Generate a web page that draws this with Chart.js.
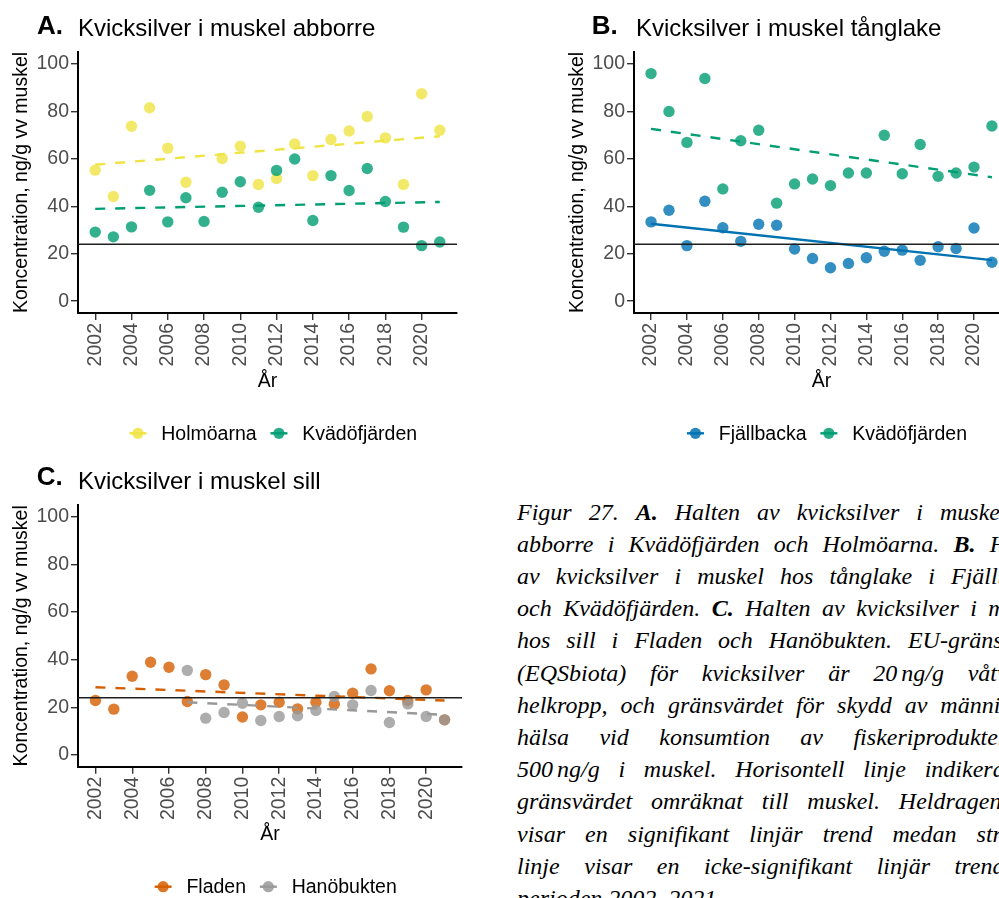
<!DOCTYPE html>
<html lang="sv">
<head>
<meta charset="utf-8">
<title>Kvicksilver i muskel</title>
<script src="https://cdn.jsdelivr.net/npm/chart.js@4.4.1/dist/chart.umd.min.js"></script>
<style>
  html, body { margin: 0; padding: 0; background: #fff; width: 999px; height: 898px; overflow: hidden; }
  canvas { position: absolute; display: block; }
  #caption {
    position: absolute; left: 517px; top: 495.6px;
    font-family: "Liberation Serif", "Times New Roman", serif;
    font-style: italic; font-size: 24px; line-height: 32.2px; color: #000;
  }
  #caption div { width: 540px; text-align: justify; text-align-last: justify; white-space: normal; }
  #caption div.last { text-align-last: left; }
  #caption b { font-weight: bold; }
  .ns { display: inline-block; width: 4px; }
</style>
</head>
<body>
<canvas id="panelA" width="470" height="455" style="left:0;top:0;width:470px;height:455px"></canvas>
<canvas id="panelB" width="470" height="455" style="left:556px;top:0;width:470px;height:455px"></canvas>
<canvas id="panelC" width="470" height="443" style="left:0;top:455px;width:470px;height:443px"></canvas>

<div id="caption">
  <div style="width:540px">Figur 27. <b>A.</b> Halten av kvicksilver i muskel hos</div>
  <div style="width:538px">abborre i Kvädöfjärden och Holmöarna. <b>B.</b> Halten</div>
  <div style="width:538px">av kvicksilver i muskel hos tånglake i Fjällbacka</div>
  <div style="width:538px">och Kvädöfjärden. <b>C.</b> Halten av kvicksilver i muskel</div>
  <div style="width:546px">hos sill i Fladen och Hanöbukten. EU-gränsvärdet</div>
  <div style="width:545px">(EQSbiota) för kvicksilver är 20<span class="ns"></span>ng/g våtvikt i</div>
  <div style="width:534px">helkropp, och gränsvärdet för skydd av människors</div>
  <div style="width:542px">hälsa vid konsumtion av fiskeriprodukter är</div>
  <div style="width:497px">500<span class="ns"></span>ng/g i muskel. Horisontell linje indikerar</div>
  <div style="width:546px">gränsvärdet omräknat till muskel. Heldragen linje</div>
  <div style="width:540px">visar en signifikant linjär trend medan streckad</div>
  <div style="width:540px">linje visar en icke-signifikant linjär trend för</div>
  <div class="last">perioden 2002–2021.</div>
</div>

<script>
// ---- Data: mercury in muscle, ng/g wet weight ----
const years = [2002, 2003, 2004, 2005, 2006, 2007, 2008, 2009, 2010, 2011,
               2012, 2013, 2014, 2015, 2016, 2017, 2018, 2019, 2020, 2021];
const tickYears = [2002, 2004, 2006, 2008, 2010, 2012, 2014, 2016, 2018, 2020];
const tickValues = [0, 20, 40, 60, 80, 100];

// A. Abborre (perch)
const abborreHolmoarna   = [55.2, 44.1, 73.7, 81.5, 64.5, 50.1, null, 60.1, 65.3, 49.2,
                            51.7, 66.2, 52.9, 68.1, 71.7, 77.8, 68.8, 49.2, 87.4, 72.0];
const abborreKvadofjarden = [29.1, 27.1, 31.3, 46.7, 33.4, 43.6, 33.6, 45.9, 50.3, 39.6,
                            55.1, 59.9, 34.0, 52.9, 46.6, 55.9, 42.0, 31.2, 23.4, 24.9];
const abborreHolmoarnaTrend    = [57.5, 69.5];
const abborreKvadofjardenTrend = [38.9, 41.8];

// B. Tånglake (eelpout)
const tanglakeFjallbacka   = [33.4, 38.3, 23.4, 42.1, 30.9, 25.2, 32.4, 32.0, 22.0, 18.0,
                              14.1, 15.9, 18.3, 21.0, 21.5, 17.2, 22.9, 22.2, 30.8, 16.4];
const tanglakeKvadofjarden = [95.9, 79.9, 66.9, 93.8, 47.3, 67.6, 72.0, 41.3, 49.4, 51.5,
                              48.7, 54.0, 54.0, 69.9, 53.7, 66.0, 52.6, 54.0, 56.5, 73.8];
const tanglakeFjallbackaTrend   = [32.6, 17.3];
const tanglakeKvadofjardenTrend = [72.6, 52.2];

// C. Sill (herring)
const sillFladen     = [22.8, 19.2, 33.0, 38.9, 36.8, 22.4, 33.7, 29.4, 15.9, 21.0,
                        22.1, 19.3, 22.1, 21.3, 25.9, 36.1, 26.9, 22.8, 27.3, 14.7];
const sillHanobukten = [null, null, null, null, null, 35.5, 15.4, 17.8, 21.7, 14.4,
                        16.1, 16.4, 18.6, 24.5, 21.0, 27.0, 13.6, 21.4, 16.1, 14.7];
const sillFladenTrend     = [28.4, 22.8];
const sillHanobuktenTrend = [22.1, 16.8];

const trendSpanFull = [2002, 2021];
const trendSpanHano = [2007, 2021];

// Limit value (EQS biota, 20 ng/g whole body) converted to muscle
const limitMuscle = 24;

// ---- Styling ----
const FONT = "'Liberation Sans', Arial, Helvetica, sans-serif";
const COLORS = {
  yellow: '240,228,66',
  green:  '0,158,115',
  blue:   '0,114,178',
  orange: '213,94,0',
  grey:   '153,153,153'
};
const yTitle = 'Koncentration, ng/g vv muskel';
const X_MIN = 2001.05, X_MAX = 2021.95, Y_MIN = -5, Y_MAX = 105;
const Y_AXIS_W = 78, X_AXIS_H = 80;

Chart.defaults.font.family = FONT;

// Panel letter + title
const headerPlugin = {
  id: 'header',
  afterDraw(chart, args, o) {
    const ctx = chart.ctx;
    ctx.save();
    ctx.fillStyle = '#000';
    ctx.textBaseline = 'alphabetic';
    ctx.textAlign = 'left';
    ctx.font = 'bold 26px ' + FONT;
    ctx.fillText(o.letter, o.letterX, o.letterY);
    ctx.font = '24px ' + FONT;
    ctx.fillText(o.title, o.titleX, o.titleY);
    ctx.restore();
  }
};

// Horizontal reference line at the limit value
const limitLinePlugin = {
  id: 'limitLine',
  afterDatasetsDraw(chart, args, o) {
    const {ctx, chartArea} = chart;
    const y = chart.scales.y.getPixelForValue(o.value);
    ctx.save();
    ctx.strokeStyle = '#1f1f1f';
    ctx.lineWidth = 1.4;
    ctx.beginPath();
    ctx.moveTo(chartArea.left, y);
    ctx.lineTo(chartArea.right, y);
    ctx.stroke();
    ctx.restore();
  }
};

// Legend below the plot: short line with a dot, then the site name
const keyLegendPlugin = {
  id: 'keyLegend',
  afterDraw(chart, args, o) {
    const ctx = chart.ctx;
    const items = chart.data.datasets.filter(d => d.keyColor);
    ctx.save();
    ctx.font = '19.5px ' + FONT;
    const halfKey = 8.5, textGap = 23.3, itemGap = 13.8;
    const widths = items.map(d => ctx.measureText(d.label).width);
    let total = 0;
    widths.forEach((w, i) => { total += halfKey + textGap + w + (i ? itemGap : 0); });
    let cursor = o.centerX - total / 2;
    items.forEach((d, i) => {
      const kc = cursor + halfKey;
      ctx.strokeStyle = 'rgb(' + d.keyColor + ')';
      ctx.lineWidth = 2.4;
      ctx.beginPath();
      ctx.moveTo(kc - halfKey, o.y);
      ctx.lineTo(kc + halfKey, o.y);
      ctx.stroke();
      ctx.fillStyle = 'rgba(' + d.keyColor + ',0.85)';
      ctx.beginPath();
      ctx.arc(kc, o.y, 5.6, 0, Math.PI * 2);
      ctx.fill();
      ctx.fillStyle = '#000';
      ctx.textBaseline = 'middle';
      ctx.textAlign = 'left';
      ctx.fillText(d.label, kc + textGap, o.y + 1);
      cursor = kc + textGap + widths[i] + itemGap;
    });
    ctx.restore();
  }
};

function points(values) {
  return years.map((yr, i) => ({x: yr, y: values[i]})).filter(p => p.y !== null);
}
function trend(span, values) {
  return span.map((yr, i) => ({x: yr, y: values[i]}));
}

function buildPanel(cfg) {
  const datasets = [];
  cfg.series.forEach((s, i) => {
    datasets.push({
      type: 'scatter',
      label: s.name,
      data: points(s.values),
      backgroundColor: 'rgba(' + s.color + ',0.8)',
      borderWidth: 0,
      pointRadius: 5.7,
      pointHoverRadius: 5.7,
      keyColor: s.color,
      order: 10 - i
    });
  });
  cfg.series.forEach((s, i) => {
    datasets.push({
      type: 'line',
      label: s.name + ' trend',
      data: trend(s.span, s.trend),
      borderColor: 'rgb(' + s.color + ')',
      borderWidth: 2.4,
      borderDash: s.significant ? [] : [10, 10],
      borderCapStyle: 'butt',
      pointRadius: 0,
      fill: false,
      tension: 0,
      order: 2 - i
    });
  });

  const tickGrid = {
    display: true, drawOnChartArea: false, drawTicks: true,
    tickLength: 7, color: '#333', lineWidth: 1.4
  };
  const axisBorder = {display: true, color: '#000', width: 2};

  return new Chart(document.getElementById(cfg.id), {
    type: 'scatter',
    data: {datasets},
    options: {
      responsive: false,
      animation: false,
      events: [],
      layout: {padding: {top: cfg.padTop, left: 0, right: cfg.padRight, bottom: cfg.padBottom}},
      plugins: {
        legend: {display: false},
        tooltip: {enabled: false},
        header: cfg.header,
        limitLine: {value: limitMuscle},
        keyLegend: cfg.legend
      },
      scales: {
        x: {
          type: 'linear', min: X_MIN, max: X_MAX,
          afterBuildTicks: s => { s.ticks = tickYears.map(v => ({value: v})); },
          afterFit: s => { s.height = X_AXIS_H; },
          grid: tickGrid,
          border: axisBorder,
          ticks: {
            autoSkip: false, minRotation: 90, maxRotation: 90, padding: 3,
            color: '#4d4d4d', font: {size: 19.5}, callback: v => String(v)
          },
          title: {display: true, text: 'År', color: '#000', font: {size: 19.5}, padding: {top: 0, bottom: 0}}
        },
        y: {
          type: 'linear', min: Y_MIN, max: Y_MAX,
          afterBuildTicks: s => { s.ticks = tickValues.map(v => ({value: v})); },
          afterFit: s => { s.width = Y_AXIS_W; },
          grid: tickGrid,
          border: axisBorder,
          ticks: {padding: 2, color: '#4d4d4d', font: {size: 19.5, lineHeight: 1}, callback: v => String(v)},
          title: {display: true, text: yTitle, color: '#000', font: {size: 19.5}, padding: {top: 10, bottom: 0}}
        }
      }
    },
    plugins: [headerPlugin, limitLinePlugin, keyLegendPlugin]
  });
}

buildPanel({
  id: 'panelA', padTop: 52, padRight: 13, padBottom: 455 - 313 - X_AXIS_H,
  header: {letter: 'A.', letterX: 37, letterY: 33.5, title: 'Kvicksilver i muskel abborre', titleX: 78, titleY: 36},
  legend: {centerX: 273.3, y: 433.3},
  series: [
    {name: 'Holmöarna', color: COLORS.yellow, values: abborreHolmoarna, span: trendSpanFull, trend: abborreHolmoarnaTrend, significant: false},
    {name: 'Kvädöfjärden', color: COLORS.green, values: abborreKvadofjarden, span: trendSpanFull, trend: abborreKvadofjardenTrend, significant: false}
  ]
});

buildPanel({
  id: 'panelB', padTop: 52, padRight: 17, padBottom: 455 - 313 - X_AXIS_H,
  header: {letter: 'B.', letterX: 35.7, letterY: 33.5, title: 'Kvicksilver i muskel tånglake', titleX: 80, titleY: 36},
  legend: {centerX: 271, y: 433.3},
  series: [
    {name: 'Fjällbacka', color: COLORS.blue, values: tanglakeFjallbacka, span: trendSpanFull, trend: tanglakeFjallbackaTrend, significant: true},
    {name: 'Kvädöfjärden', color: COLORS.green, values: tanglakeKvadofjarden, span: trendSpanFull, trend: tanglakeKvadofjardenTrend, significant: false}
  ]
});

buildPanel({
  id: 'panelC', padTop: 50, padRight: 8, padBottom: 443 - 311.7 - X_AXIS_H,
  header: {letter: 'C.', letterX: 36.7, letterY: 30, title: 'Kvicksilver i muskel sill', titleX: 78, titleY: 34.3},
  legend: {centerX: 275.7, y: 431.7},
  series: [
    {name: 'Fladen', color: COLORS.orange, values: sillFladen, span: trendSpanFull, trend: sillFladenTrend, significant: false},
    {name: 'Hanöbukten', color: COLORS.grey, values: sillHanobukten, span: trendSpanHano, trend: sillHanobuktenTrend, significant: false}
  ]
});
</script>
</body>
</html>
